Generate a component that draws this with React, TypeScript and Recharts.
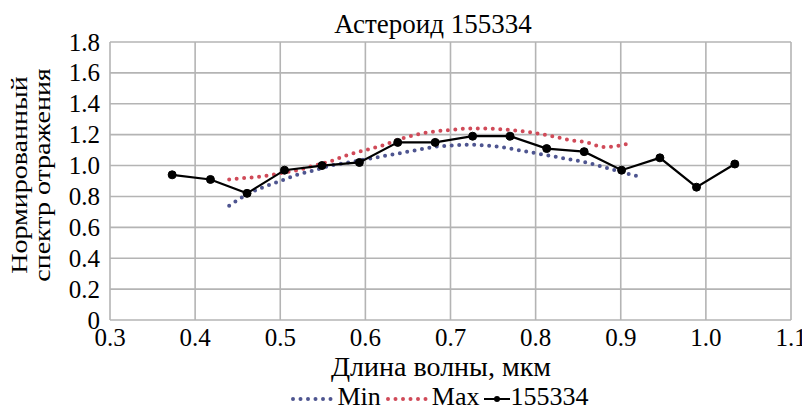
import React from "react";
import { LineChart, Line, XAxis, YAxis, CartesianGrid, Legend } from "recharts";

const title = "Астероид 155334";
const xTitle = "Длина волны, мкм";
const yTitleLines = ["Нормированный", "спектр отражения"];

const xTicks = [0.3, 0.4, 0.5, 0.6, 0.7, 0.8, 0.9, 1.0, 1.1];
const yTicks = [0, 0.2, 0.4, 0.6, 0.8, 1.0, 1.2, 1.4, 1.6, 1.8];

const minWave = [0.44, 0.46, 0.48, 0.5, 0.52, 0.54, 0.56, 0.58, 0.6, 0.62, 0.64, 0.66, 0.68, 0.7, 0.72, 0.74, 0.76, 0.78, 0.8, 0.82, 0.84, 0.86, 0.88, 0.9, 0.92];
const minValues = [0.74, 0.81, 0.86, 0.9, 0.94, 0.97, 1.0, 1.02, 1.04, 1.06, 1.08, 1.1, 1.12, 1.13, 1.135, 1.13, 1.12, 1.1, 1.08, 1.06, 1.04, 1.02, 0.99, 0.96, 0.93];

const maxWave = [0.44, 0.46, 0.48, 0.5, 0.52, 0.54, 0.56, 0.58, 0.6, 0.62, 0.64, 0.66, 0.68, 0.7, 0.72, 0.74, 0.76, 0.78, 0.8, 0.82, 0.84, 0.86, 0.88, 0.9, 0.91];
const maxValues = [0.91, 0.92, 0.93, 0.95, 0.97, 1.0, 1.03, 1.07, 1.1, 1.13, 1.17, 1.2, 1.22, 1.23, 1.24, 1.24, 1.235, 1.225, 1.21, 1.19, 1.165, 1.15, 1.12, 1.13, 1.145];

const astWave = [0.373, 0.418, 0.461, 0.505, 0.549, 0.593, 0.638, 0.682, 0.726, 0.77, 0.813, 0.857, 0.901, 0.946, 0.989, 1.034];
const astValues = [0.94, 0.91, 0.82, 0.97, 1.0, 1.02, 1.15, 1.15, 1.19, 1.19, 1.11, 1.09, 0.97, 1.05, 0.86, 1.01];

const minData = minWave.map((x, i) => ({ x, y: minValues[i] }));
const maxData = maxWave.map((x, i) => ({ x, y: maxValues[i] }));
const astData = astWave.map((x, i) => ({ x, y: astValues[i] }));

const FONT = "Liberation Serif, DejaVu Serif";
const BLUE = "#4e5590";
const RED = "#d04a58";

const legendItems = [
  { name: "Min", color: BLUE, kind: "dot" },
  { name: "Max", color: RED, kind: "dot" },
  { name: "155334", color: "#000", kind: "line" },
];

const LegendContent = () => (
  <div style={{ display: "flex", justifyContent: "center", alignItems: "center", fontFamily: FONT, fontSize: 26, color: "#000", lineHeight: "26px", height: 26, paddingLeft: 76 }}>
    {legendItems.map((it) => (
      <span key={it.name} style={{ display: "inline-flex", alignItems: "center", fontFamily: FONT }}>
        <svg width={it.kind === "dot" ? 48 : 28} height={14} style={{ marginTop: 4 }}>
          {it.kind === "dot" ? (
            <line x1={4} y1={7} x2={46} y2={7} stroke={it.color} strokeWidth={4} strokeDasharray="0 7.5" strokeLinecap="round" />
          ) : (
            <g>
              <line x1={1} y1={7} x2={27} y2={7} stroke="#000" strokeWidth={2} />
              <circle cx={14} cy={7} r={3} fill="#000" />
            </g>
          )}
        </svg>
        <span style={{ marginRight: it.kind === "dot" ? 3 : 0, fontFamily: FONT }}>{it.name}</span>
      </span>
    ))}
  </div>
);

const YTitle = () => (
  <g>
    <text x={0} y={0} transform="translate(27,175) rotate(-90) scale(1,0.82)" textAnchor="middle" fontFamily={FONT} style={{ fontFamily: FONT }} fontSize={28} fill="#000">
      {yTitleLines[0]}
    </text>
    <text x={0} y={0} transform="translate(50,175) rotate(-90) scale(1,0.82)" textAnchor="middle" fontFamily={FONT} style={{ fontFamily: FONT }} fontSize={28} fill="#000">
      {yTitleLines[1]}
    </text>
  </g>
);

const XTitle = () => (
  <text x={441} y={376} textAnchor="middle" fontFamily={FONT} style={{ fontFamily: FONT }} fontSize={28} fill="#000">
    {xTitle}
  </text>
);

const XTick = (props: any) => {
  const { x, y, payload } = props;
  return (
    <text x={x} y={y + 26} textAnchor="middle" fontFamily={FONT} style={{ fontFamily: FONT }} fontSize={25} fill="#000">
      {Number(payload.value).toFixed(1)}
    </text>
  );
};

const YTick = (props: any) => {
  const { x, y, payload } = props;
  const v = Number(payload.value);
  return (
    <text x={x - 10} y={y + 8.5} textAnchor="end" fontFamily={FONT} style={{ fontFamily: FONT }} fontSize={25} fill="#000">
      {v === 0 ? "0" : v.toFixed(1)}
    </text>
  );
};

export default function App() {
  return (
    <div style={{ position: "absolute", left: 0, top: 0, background: "#fff", fontFamily: FONT }}>
      <LineChart width={802} height={410} margin={{ top: 42, right: 11, bottom: 34, left: 0 }} style={{ fontFamily: FONT }}>
        <text x={433} y={33} textAnchor="middle" fontFamily={FONT} style={{ fontFamily: FONT }} fontSize={27} fill="#000">
          {title}
        </text>
        <CartesianGrid stroke="#b4b4b4" strokeWidth={1.6} horizontalValues={yTicks} verticalValues={xTicks} />
        <XAxis
          type="number"
          dataKey="x"
          domain={[0.3, 1.1]}
          ticks={xTicks}
          axisLine={false}
          tickLine={false}
          tickSize={0}
          tickMargin={0}
          height={30}
          tick={<XTick />}
          interval={0}
          label={{ content: XTitle }}
        />
        <YAxis
          type="number"
          dataKey="y"
          domain={[0, 1.8]}
          ticks={yTicks}
          axisLine={false}
          tickLine={false}
          tickSize={0}
          tickMargin={0}
          width={110}
          interval={0}
          tick={<YTick />}
          label={{ content: YTitle }}
        />
        <Legend verticalAlign="bottom" height={26} content={<LegendContent />} wrapperStyle={{ left: 0, width: 802, bottom: 0 }} />
        <Line data={minData} dataKey="y" name="Min" type="monotone" stroke={BLUE} strokeWidth={4} strokeDasharray="0 7.5" strokeLinecap="round" dot={false} isAnimationActive={false} />
        <Line data={maxData} dataKey="y" name="Max" type="monotone" stroke={RED} strokeWidth={4} strokeDasharray="0 7.5" strokeLinecap="round" dot={false} isAnimationActive={false} />
        <Line data={astData} dataKey="y" name="155334" type="linear" stroke="#000" strokeWidth={2.2} dot={{ r: 4, fill: "#000", stroke: "#000", strokeWidth: 1 }} isAnimationActive={false} />
      </LineChart>
    </div>
  );
}
